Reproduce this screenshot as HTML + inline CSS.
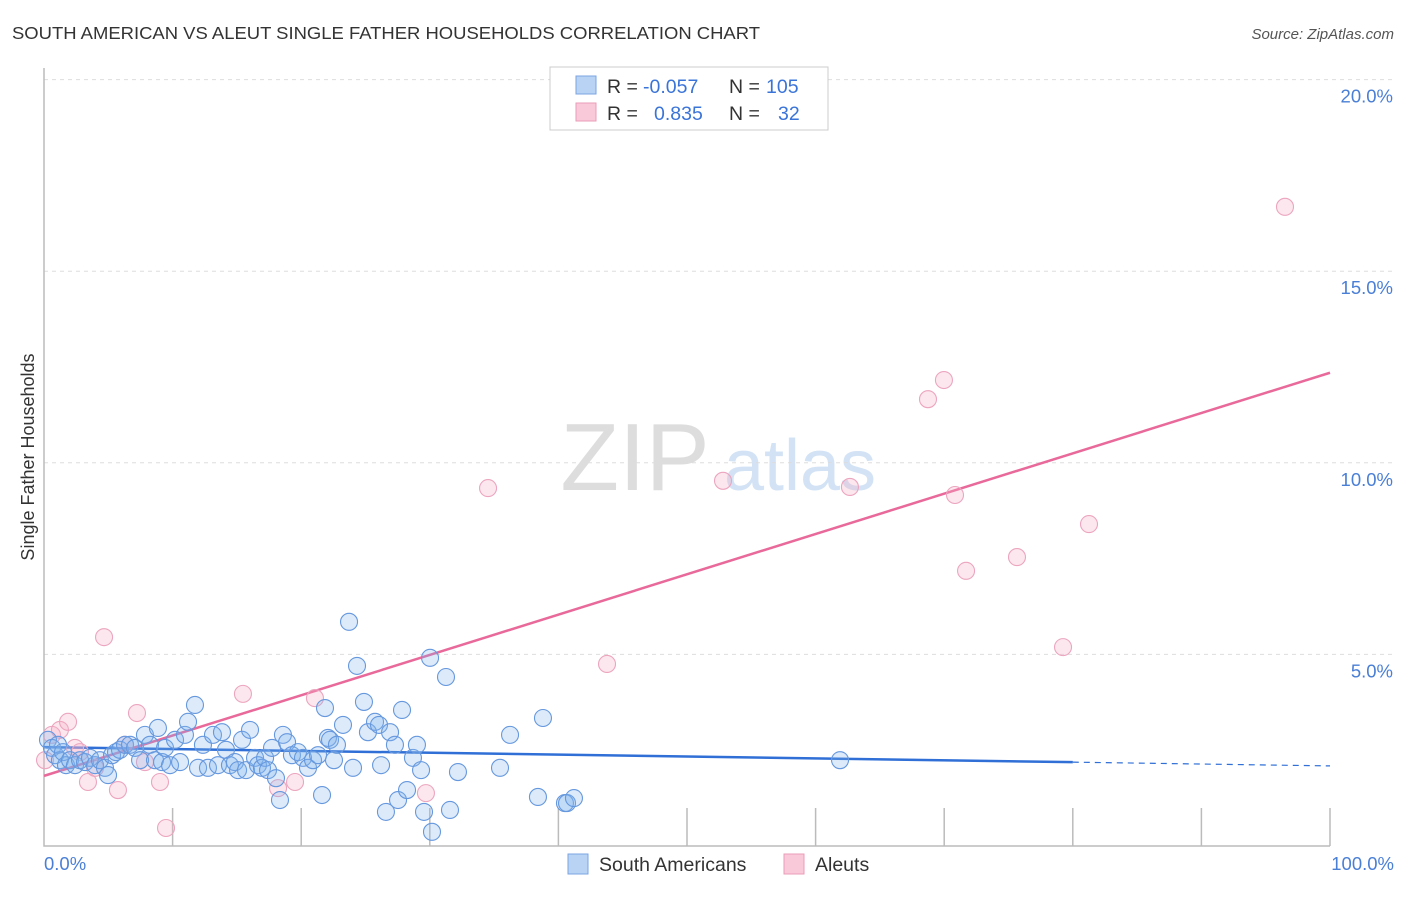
<!DOCTYPE html>
<html><head><meta charset="utf-8"><style>
body{margin:0;background:#fff;font-family:"Liberation Sans",sans-serif;}
svg text{font-family:"Liberation Sans",sans-serif;}
</style></head><body>
<svg width="1406" height="892" xmlns="http://www.w3.org/2000/svg">
<text x="12" y="39" font-size="17.5" fill="#333" textLength="748" lengthAdjust="spacingAndGlyphs">SOUTH AMERICAN VS ALEUT SINGLE FATHER HOUSEHOLDS CORRELATION CHART</text>
<text x="1394" y="39" font-size="15" fill="#555" text-anchor="end" font-style="italic">Source: ZipAtlas.com</text>
<g>
<text x="635" y="490" font-size="96" fill="#ddd" font-family="Liberation Serif" text-anchor="middle">ZIP</text>
<text x="800" y="490" font-size="72" fill="#d3e3f5" text-anchor="middle">atlas</text>
</g>
<g id="grid"></g>
<g id="axes"></g>
<g id="lines"></g>
<g id="pts"></g>
<text transform="translate(34,457) rotate(-90)" font-size="18" fill="#333" text-anchor="middle">Single Father Households</text>
<text x="44" y="870" font-size="18.5" fill="#4a7fd6">0.0%</text>
<text x="1394" y="870" font-size="18.5" fill="#4a7fd6" text-anchor="end">100.0%</text>
<g>
<rect x="550" y="67" width="278" height="63" fill="#fff" stroke="#ccc"/>
<rect x="576" y="76" width="20" height="18" fill="#b9d3f5" stroke="#7aa5e0"/>
<rect x="576" y="103" width="20" height="18" fill="#f9c9da" stroke="#eb9cb8"/>
<text x="607" y="93" font-size="19.5" fill="#333">R =</text>
<text x="643" y="93" font-size="19.5" fill="#3a74d8">-0.057</text>
<text x="729" y="93" font-size="19.5" fill="#333">N =</text>
<text x="766" y="93" font-size="19.5" fill="#3a74d8">105</text>
<text x="607" y="120" font-size="19.5" fill="#333">R =</text>
<text x="654" y="120" font-size="19.5" fill="#3a74d8">0.835</text>
<text x="729" y="120" font-size="19.5" fill="#333">N =</text>
<text x="778" y="120" font-size="19.5" fill="#3a74d8">32</text>
</g>
<g>
<rect x="568" y="854" width="20" height="20" fill="#b9d3f5" stroke="#7aa5e0"/>
<text x="599" y="871" font-size="19.5" fill="#333">South Americans</text>
<rect x="784" y="854" width="20" height="20" fill="#f9c9da" stroke="#eb9cb8"/>
<text x="815" y="871" font-size="19.5" fill="#333">Aleuts</text>
</g>
</svg>
<script>
const blueX=[0.31,0.62,0.86,1.09,1.24,1.48,1.71,2.02,2.41,2.80,3.19,3.58,3.97,4.35,4.74,4.98,5.29,5.60,5.91,6.30,6.69,7.08,7.47,7.85,8.24,8.63,8.86,9.18,9.41,9.80,10.19,10.58,10.96,11.20,11.74,11.98,12.36,12.75,13.14,13.53,13.84,14.15,14.46,14.85,15.09,15.40,15.71,16.02,16.41,16.64,16.95,17.19,17.42,17.73,18.04,18.35,18.58,18.90,19.28,19.75,20.14,20.53,20.92,21.31,21.62,21.85,22.08,22.24,22.55,22.78,23.25,23.72,24.03,24.34,24.88,25.19,25.74,26.05,26.21,26.59,26.91,27.29,27.53,27.84,28.23,28.69,29.00,29.32,29.55,30.02,30.17,31.26,31.57,32.19,35.46,36.24,38.41,38.80,40.51,40.67,41.21,61.90];
const blueY=[2.77,2.56,2.37,2.64,2.24,2.45,2.11,2.24,2.11,2.24,2.19,2.30,2.11,2.24,2.04,1.85,2.37,2.45,2.51,2.64,2.64,2.56,2.24,2.90,2.64,2.24,3.08,2.19,2.56,2.11,2.77,2.19,2.90,3.24,3.68,2.04,2.64,2.04,2.90,2.11,2.97,2.51,2.11,2.19,1.98,2.77,1.98,3.03,2.30,2.11,2.04,2.30,1.98,2.56,1.77,1.20,2.90,2.71,2.37,2.45,2.30,2.04,2.24,2.37,1.33,3.60,2.82,2.77,2.24,2.64,3.16,5.85,2.04,4.70,3.76,2.97,3.24,3.16,2.11,0.89,2.97,2.64,1.20,3.55,1.46,2.30,2.64,1.98,0.89,4.91,0.37,4.41,0.94,1.93,2.04,2.90,1.28,3.34,1.12,1.12,1.25,2.24];
const pinkX=[0.08,0.62,1.24,1.87,2.41,2.80,3.42,3.97,4.67,5.75,6.30,7.23,7.85,9.02,9.49,15.47,18.20,19.52,21.07,29.70,34.53,43.78,52.80,62.67,68.74,69.98,70.84,71.70,75.66,79.24,81.26,96.50];
const pinkY=[2.24,2.90,3.03,3.24,2.56,2.45,1.67,2.04,5.45,1.46,2.64,3.47,2.19,1.67,0.47,3.97,1.51,1.67,3.86,1.38,9.34,4.75,9.53,9.37,11.66,12.16,9.16,7.18,7.54,5.19,8.40,16.68];
const yTicks=[5,10,15,20];
const yTickLabels=["5.0%","10.0%","15.0%","20.0%"];
const blueTrend=[2.58,-0.0049];
const pinkTrend=[1.83,0.1052];
const NS="http://www.w3.org/2000/svg";
const X=v=>44+v*12.86, Y=v=>846-v*38.32;
function mk(p,t,a){const e=document.createElementNS(NS,t);for(const k in a)e.setAttribute(k,a[k]);document.getElementById(p).appendChild(e);return e;}
yTicks.forEach((t,i)=>{
 const l=mk('grid','line',{x1:44,x2:1394,y1:Y(t),y2:Y(t),stroke:'#ddd','stroke-dasharray':'4,4'});
 
 
 const tx=mk('grid','text',{x:1393,y:Y(t)+23,'font-size':18.5,fill:'#4a7fd6','text-anchor':'end'});
 tx.textContent=yTickLabels[i];
 
 
});
const ax=mk('axes','path',{d:'M44 68V846H1330',fill:'none',stroke:'#bbb','stroke-width':1.5});


for(let i=1;i<=10;i++){
 const t=mk('axes','line',{x1:X(i*10),x2:X(i*10),y1:846,y2:808,stroke:'#bbb','stroke-width':1.5});
 
 
}
let b=mk('lines','line',{x1:X(0),y1:Y(blueTrend[0]),x2:X(80),y2:Y(blueTrend[0]+blueTrend[1]*80),stroke:'#2f6fd6','stroke-width':2.5});


b=mk('lines','line',{x1:X(80),y1:Y(blueTrend[0]+blueTrend[1]*80),x2:X(100),y2:Y(blueTrend[0]+blueTrend[1]*100),stroke:'#2f6fd6','stroke-width':1.2,'stroke-dasharray':'6,5'});


b=mk('lines','line',{x1:X(0),y1:Y(pinkTrend[0]),x2:X(100),y2:Y(pinkTrend[0]+pinkTrend[1]*100),stroke:'#e8699a','stroke-width':2.5});


pinkX.forEach((x,i)=>{
 const c=mk('pts','circle',{cx:X(x),cy:Y(pinkY[i]),r:8.5,fill:'rgba(245,175,200,0.3)',stroke:'#eca5bf','stroke-width':1.1});
 
 
});
blueX.forEach((x,i)=>{
 const c=mk('pts','circle',{cx:X(x),cy:Y(blueY[i]),r:8.5,fill:'rgba(130,178,238,0.28)',stroke:'#6698de','stroke-width':1.1});
 
 
});
</script>
</body></html>
